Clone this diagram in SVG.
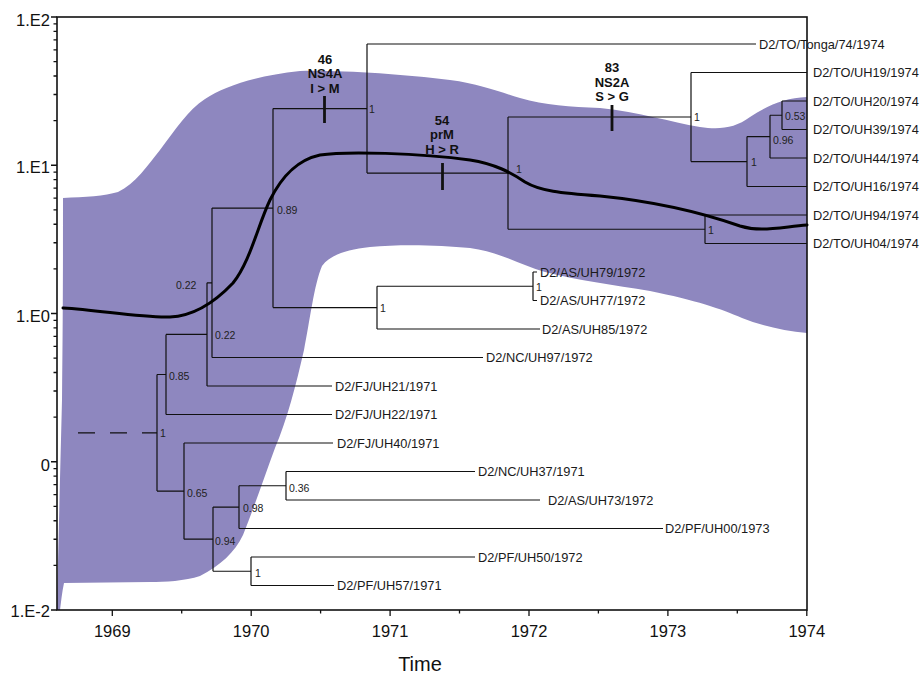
<svg xmlns="http://www.w3.org/2000/svg" width="920" height="674" viewBox="0 0 920 674">
<style>
.br{fill:none;stroke:#111;stroke-width:1.2}
.tip{font-family:"Liberation Sans",Arial,sans-serif;font-size:12.8px;fill:#1a1a1a}
.sup{font-family:"Liberation Sans",Arial,sans-serif;font-size:10.5px;fill:#222}
.mut{font-family:"Liberation Sans",Arial,sans-serif;font-size:13px;font-weight:bold;fill:#111;text-anchor:middle}
.mk{stroke:#111;stroke-width:2.8}
.ax{font-family:"Liberation Sans",Arial,sans-serif;font-size:16.5px;fill:#111}
.tk{stroke:#111;stroke-width:1.3}
</style>
<rect width="920" height="674" fill="#fff"/>
<g id="band">
<path fill="#8E87BF" d="M63,198 C85,197 105,196 118,192 C135,184 148,165 160,150 C175,130 188,110 205,99 C225,86 255,76 300,71 C340,70 400,74 450,80 C480,84 500,92 520,98 C545,105 570,107 600,108 C640,112 670,122 700,127 C720,130 735,128 750,117 C770,104 785,98 807,97 L807,333 C785,331 762,326 742,318 C722,309 695,300 650,291 C615,285 575,280 545,272 C520,265 500,252 470,248 C440,245 400,244 370,247 C345,250 330,255 322,266 C314,285 310,320 304,350 C296,385 287,420 275,448 C265,475 255,505 243,535 C235,552 220,566 200,576 C185,581 165,582 150,582 L64,583 C62,592 61,602 60,610 L57,610 C58,560 60,480 62,400 C63,320 63,250 63,198 Z"/>
</g>
<g id="axes">
<rect x="57" y="17" width="750" height="593" fill="none" stroke="#111" stroke-width="1.6"/>
<path class="tk" d="M112.3,610v6M251.2,610v6M390.1,610v6M529,610v6M667.9,610v6M806.8,610v6M181.7,610v3.5M320.6,610v3.5M459.5,610v3.5M598.4,610v3.5M737.3,610v3.5"/>
<path class="tk" d="M57,17h-6M57,165.25h-6M57,313.5h-6M57,461.75h-6M57,610h-6"/>
<path class="tk" d="M57,565.37h-3.5M57,539.27h-3.5M57,520.74h-3.5M57,506.38h-3.5M57,494.64h-3.5M57,484.71h-3.5M57,476.12h-3.5M57,468.53h-3.5M57,417.12h-3.5M57,391.02h-3.5M57,372.49h-3.5M57,358.13h-3.5M57,346.39h-3.5M57,336.46h-3.5M57,327.87h-3.5M57,320.28h-3.5M57,268.87h-3.5M57,242.77h-3.5M57,224.24h-3.5M57,209.88h-3.5M57,198.14h-3.5M57,188.21h-3.5M57,179.62h-3.5M57,172.03h-3.5M57,120.62h-3.5M57,94.52h-3.5M57,75.99h-3.5M57,61.63h-3.5M57,49.89h-3.5M57,39.96h-3.5M57,31.37h-3.5M57,23.78h-3.5"/>
<g class="ax" text-anchor="end">
<text x="50" y="26">1.E2</text>
<text x="50" y="173">1.E1</text>
<text x="50" y="322">1.E0</text>
<text x="50" y="471">0</text>
<text x="50" y="617">1.E-2</text>
</g>
<g class="ax" text-anchor="middle">
<text x="112.3" y="637">1969</text>
<text x="251.2" y="637">1970</text>
<text x="390.1" y="637">1971</text>
<text x="529" y="637">1972</text>
<text x="667.9" y="637">1973</text>
<text x="806.8" y="637">1974</text>
</g>
<text x="420" y="671" text-anchor="middle" font-family="'Liberation Sans',Arial,sans-serif" font-size="20" fill="#111">Time</text>
</g>
<g id="connectors">
<path class="br" stroke-dasharray="17,15" d="M78,432.8H157"/>
<path class="br" d="M157,374.5V491.1M157,374.5H166M157,491.1H184"/>
<path class="br" d="M166,334.4V414.5M166,334.4H207M166,414.5H332"/>
<path class="br" d="M207,282.8V386M207,282.8H212M207,386H332"/>
<path class="br" d="M212,208.1V357.5M212,208.1H273M212,357.5H483"/>
<path class="br" d="M273,108.6V307.6M273,108.6H367M273,307.6H377"/>
<path class="br" d="M377,286.25V329M377,286.25H533M377,329H540"/>
<path class="br" d="M533,272V300.5M533,272H537M533,300.5H537"/>
<path class="br" d="M367,44V173.1M367,44H756M367,173.1H508"/>
<path class="br" d="M508,117V229.25M508,117H691M508,229.25H705"/>
<path class="br" d="M691,72.5V161.6M691,72.5H807M691,161.6H747"/>
<path class="br" d="M747,136.6V186.5M747,136.6H770M747,186.5H807"/>
<path class="br" d="M770,115.25V158M770,115.25H782M770,158H807"/>
<path class="br" d="M782,101V129.5M782,101H807M782,129.5H807"/>
<path class="br" d="M705,215V243.5M705,215H807M705,243.5H807"/>
<path class="br" d="M184,443V539.2M184,443H333M184,539.2H213"/>
<path class="br" d="M213,507.1V571.25M213,507.1H239M213,571.25H251"/>
<path class="br" d="M239,485.75V528.5M239,485.75H286M239,528.5H663"/>
<path class="br" d="M286,471.5V500M286,471.5H475M286,500H540"/>
<path class="br" d="M251,557V585.5M251,557H475M251,585.5H334"/>
</g>
<g id="median">
<path fill="none" stroke="#000" stroke-width="3" stroke-linecap="round" d="M63,308 C100,310 140,318 170,317 C195,316 215,302 233,283 C250,262 258,225 270,200 C282,176 297,160 320,155 C345,151 420,153 470,160 C495,164 510,172 525,182 C540,191 560,193 600,196 C650,201 700,212 740,226 C760,232 775,228 807,225"/>
</g>
<g id="mutations">
<g id="mut-ns4a">
<line class="mk" x1="324.5" y1="96" x2="324.5" y2="123"/>
<text class="mut" x="325" y="63.6">46</text>
<text class="mut" x="325" y="78.3">NS4A</text>
<text class="mut" x="325" y="93">I &gt; M</text>
</g>
<g id="mut-prm">
<line class="mk" x1="442.5" y1="163" x2="442.5" y2="190"/>
<text class="mut" x="442" y="124.6">54</text>
<text class="mut" x="442" y="139.3">prM</text>
<text class="mut" x="442" y="154">H &gt; R</text>
</g>
<g id="mut-ns2a">
<line class="mk" x1="612" y1="105" x2="612" y2="131"/>
<text class="mut" x="612" y="72">83</text>
<text class="mut" x="612" y="86.7">NS2A</text>
<text class="mut" x="612" y="101.4">S &gt; G</text>
</g>
</g>
<g id="tips">
<g id="t-tonga"><text class="tip" x="759" y="48.5">D2/TO/Tonga/74/1974</text></g>
<g id="t-uh19"><text class="tip" x="813" y="77">D2/TO/UH19/1974</text></g>
<g id="t-uh20"><text class="tip" x="813" y="105.5">D2/TO/UH20/1974</text></g>
<g id="t-uh39"><text class="tip" x="813" y="134">D2/TO/UH39/1974</text></g>
<g id="t-uh44"><text class="tip" x="813" y="162.5">D2/TO/UH44/1974</text></g>
<g id="t-uh16"><text class="tip" x="813" y="191">D2/TO/UH16/1974</text></g>
<g id="t-uh94"><text class="tip" x="813" y="219.5">D2/TO/UH94/1974</text></g>
<g id="t-uh04"><text class="tip" x="813" y="248">D2/TO/UH04/1974</text></g>
<g id="t-uh79"><text class="tip" x="540" y="276.5">D2/AS/UH79/1972</text></g>
<g id="t-uh77"><text class="tip" x="540" y="305">D2/AS/UH77/1972</text></g>
<g id="t-uh85"><text class="tip" x="542" y="333.5">D2/AS/UH85/1972</text></g>
<g id="t-uh97"><text class="tip" x="486" y="362">D2/NC/UH97/1972</text></g>
<g id="t-uh21"><text class="tip" x="335" y="390.5">D2/FJ/UH21/1971</text></g>
<g id="t-uh22"><text class="tip" x="335" y="419">D2/FJ/UH22/1971</text></g>
<g id="t-uh40"><text class="tip" x="337" y="447.5">D2/FJ/UH40/1971</text></g>
<g id="t-uh37"><text class="tip" x="478" y="476">D2/NC/UH37/1971</text></g>
<g id="t-uh73"><text class="tip" x="548" y="504.5">D2/AS/UH73/1972</text></g>
<g id="t-uh00"><text class="tip" x="665" y="533">D2/PF/UH00/1973</text></g>
<g id="t-uh50"><text class="tip" x="478" y="561.5">D2/PF/UH50/1972</text></g>
<g id="t-uh57"><text class="tip" x="337" y="590">D2/PF/UH57/1971</text></g>
</g>
<g id="supports">
<g id="n782"><text class="sup" x="785" y="120">0.53</text></g>
<g id="n770"><text class="sup" x="773" y="144">0.96</text></g>
<g id="n747"><text class="sup" x="751" y="166">1</text></g>
<g id="n691"><text class="sup" x="694" y="121">1</text></g>
<g id="n705"><text class="sup" x="708" y="234">1</text></g>
<g id="n508"><text class="sup" x="516" y="173">1</text></g>
<g id="n367"><text class="sup" x="369" y="113">1</text></g>
<g id="n533"><text class="sup" x="536" y="291">1</text></g>
<g id="n377"><text class="sup" x="380" y="312">1</text></g>
<g id="n273"><text class="sup" x="277" y="214">0.89</text></g>
<g id="n212"><text class="sup" x="176" y="289">0.22</text></g>
<g id="n207"><text class="sup" x="215" y="339">0.22</text></g>
<g id="n166"><text class="sup" x="169" y="380">0.85</text></g>
<g id="n157"><text class="sup" x="160" y="437">1</text></g>
<g id="n184"><text class="sup" x="187" y="497">0.65</text></g>
<g id="n213"><text class="sup" x="215" y="545">0.94</text></g>
<g id="n239"><text class="sup" x="243" y="512">0.98</text></g>
<g id="n286"><text class="sup" x="289" y="492">0.36</text></g>
<g id="n251"><text class="sup" x="255" y="577">1</text></g>
</g>
</svg>
